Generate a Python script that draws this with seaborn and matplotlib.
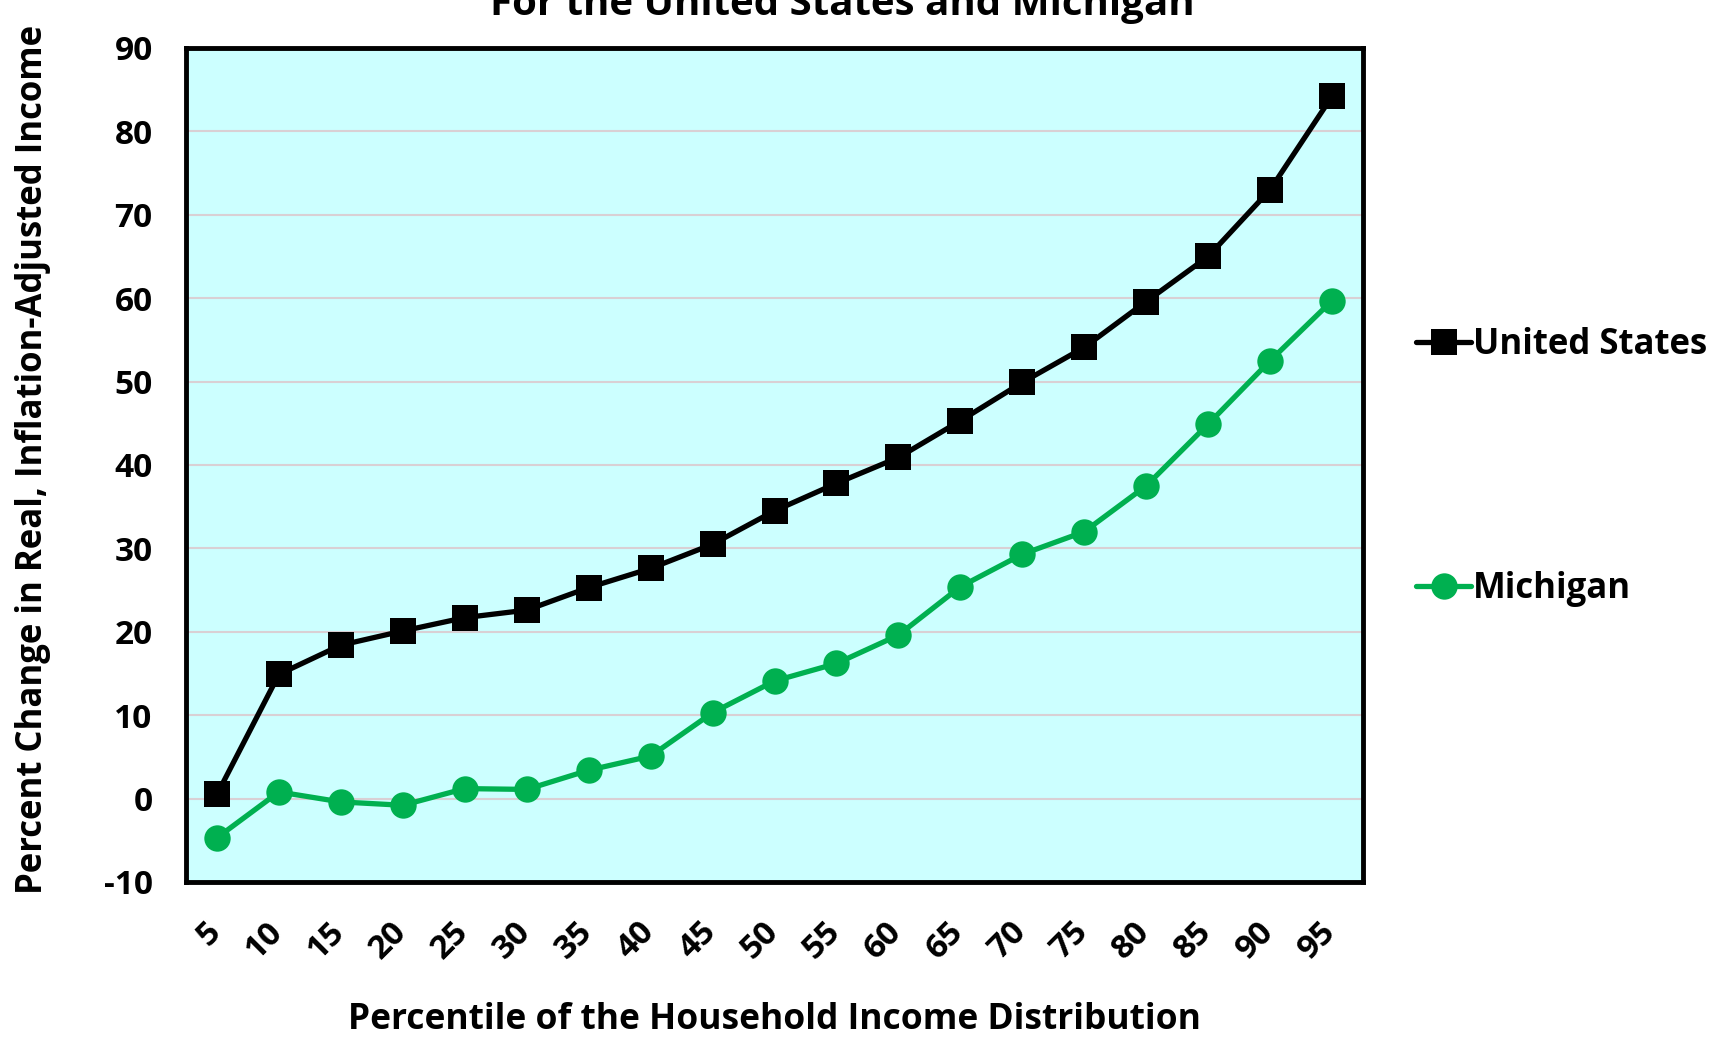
import numpy as np
import pandas as pd
import matplotlib
matplotlib.use('Agg')
import matplotlib.pyplot as plt
import matplotlib.transforms as mtransforms
import seaborn as sns

# data
percentiles = [5, 10, 15, 20, 25, 30, 35, 40, 45, 50, 55, 60, 65, 70, 75, 80, 85, 90, 95]
us_values = [0.5, 14.9, 18.4, 20.1, 21.7, 22.6, 25.3, 27.6, 30.5, 34.5, 37.8, 40.9,
             45.3, 49.9, 54.1, 59.6, 65.0, 73.0, 84.2]
mi_values = [-4.7, 0.8, -0.4, -0.8, 1.2, 1.1, 3.4, 5.1, 10.3, 14.1, 16.2, 19.6,
             25.4, 29.3, 32.0, 37.5, 44.9, 52.5, 59.7]
y_ticks = [-10, 0, 10, 20, 30, 40, 50, 60, 70, 80, 90]

df = pd.DataFrame({
    'pos': list(range(len(percentiles))) * 2,
    'value': us_values + mi_values,
    'series': ['United States'] * len(percentiles) + ['Michigan'] * len(percentiles),
})

sns.set_theme(style='white')
plt.rcParams['font.family'] = ['Open Sans', 'DejaVu Sans']
plt.rcParams['font.weight'] = 'bold'
plt.rcParams['text.color'] = 'black'
plt.rcParams['axes.labelcolor'] = 'black'
plt.rcParams['xtick.color'] = 'black'
plt.rcParams['ytick.color'] = 'black'

fig = plt.figure(figsize=(17.21, 10.37), dpi=100)
ax = fig.add_axes([186 / 1721, 1 - 882 / 1037, (1363 - 186) / 1721, (882 - 48) / 1037])
ax.set_facecolor('#CCFFFF')

for y in y_ticks[1:-1]:
    ax.axhline(y, color='#D9D0D4', lw=1.5, zorder=0)

sns.lineplot(data=df[df.series == 'United States'], x='pos', y='value', ax=ax,
             color='black', lw=3.8, marker='s', markersize=19, markeredgewidth=0,
             label='United States', zorder=3)
sns.lineplot(data=df[df.series == 'Michigan'], x='pos', y='value', ax=ax,
             color='#00B050', lw=3.8, marker='o', markersize=19, markeredgewidth=0,
             label='Michigan', zorder=2)

ax.set_xlim(-0.5, len(percentiles) - 0.5)
ax.set_ylim(-10, 90)
ax.set_yticks(y_ticks)
ax.set_yticklabels([str(v) for v in y_ticks], fontsize=24, fontweight='bold')
ax.set_xticks(range(len(percentiles)))
ax.set_xticklabels([str(p) for p in percentiles], fontsize=24, fontweight='bold',
                   rotation=45, ha='right', rotation_mode='anchor')
ax.tick_params(axis='x', pad=24, length=0)
ax.tick_params(axis='y', pad=24, length=0)

# shift the rotated x labels a little to the left, like the original
shift = mtransforms.ScaledTranslation(-0.13, 0, fig.dpi_scale_trans)
for lbl in ax.get_xticklabels():
    lbl.set_transform(lbl.get_transform() + shift)

for s in ax.spines.values():
    s.set_color('black')
    s.set_linewidth(3.5)

ax.set_xlabel('Percentile of the Household Income Distribution', fontsize=25.5,
              fontweight='bold', labelpad=26)
ax.set_ylabel('Percent Change in Real, Inflation-Adjusted Income', fontsize=25,
              fontweight='bold')
ax.yaxis.set_label_coords(-0.115, 0.507)

leg = ax.legend(loc='upper left', bbox_to_anchor=(1.033, 0.682), frameon=False,
                fontsize=25, labelspacing=6.0, handlelength=1.6, handletextpad=0.05,
                borderaxespad=0)
for t in leg.get_texts():
    t.set_fontweight('bold')

fig.text(842 / 1721, 1 - 15 / 1037, 'For the United States and Michigan', ha='center',
         va='baseline', fontsize=29, fontweight='bold')

fig.savefig('out.png', dpi=100)
